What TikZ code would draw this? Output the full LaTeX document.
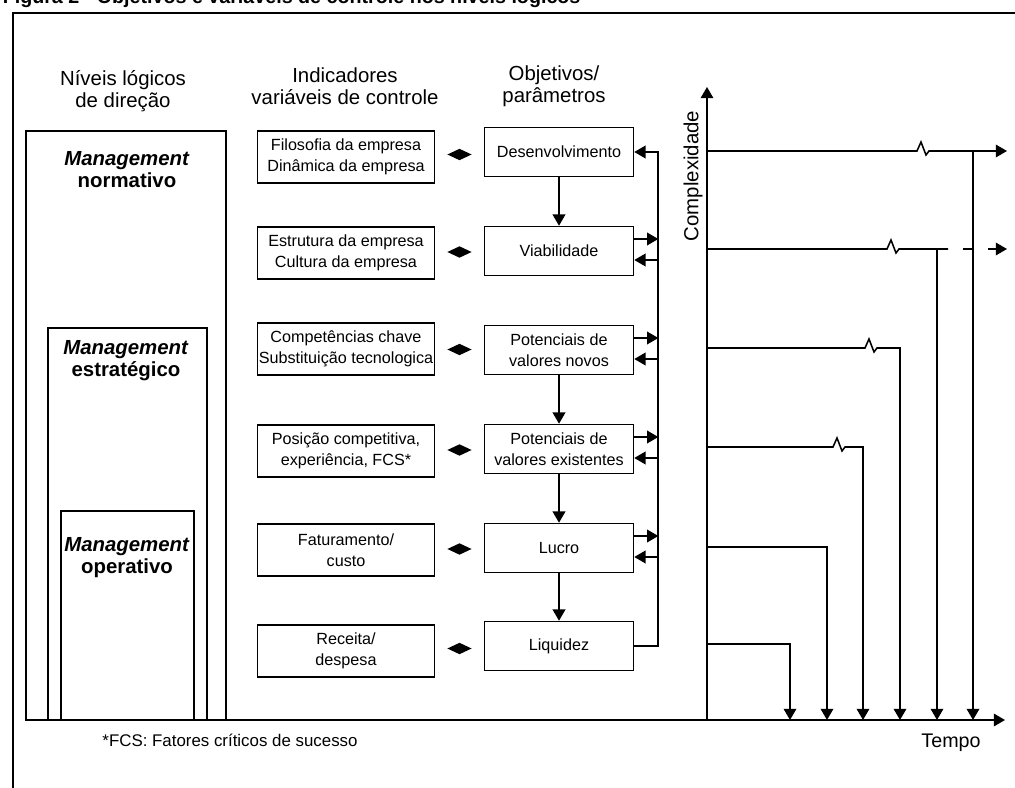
\documentclass[tikz,border=0pt]{standalone}
\usepackage{fontspec}
\setmainfont{Liberation Sans}
\usepackage{tikz}
\usetikzlibrary{arrows.meta,shapes.geometric,calc}

\begin{document}
\begin{tikzpicture}[x=0.025cm, y=-0.025cm, line width=1.1pt,
  ind/.style={draw, minimum width=4.425cm, minimum height=1.3cm, inner sep=0pt, align=center, font=\fontsize{11.5}{15}\selectfont},
  obj/.style={draw, minimum width=3.725cm, minimum height=1.225cm, inner sep=0pt, align=center, font=\fontsize{11.5}{15}\selectfont},
  head/.style={align=center, font=\fontsize{14.5}{15.6}\selectfont},
  level/.style={align=center, font=\bfseries\fontsize{14.5}{15.6}\selectfont},
  dia/.style={diamond, fill, draw=none, inner sep=0pt, minimum width=0.62cm, minimum height=0.3cm, aspect=2},
  arr/.style={-{Triangle[length=8pt,width=9pt]}}]
\useasboundingbox (0,0) rectangle (1015,788);

% title, cut off at the top
\begin{scope}
\clip (0,0) rectangle (1015,788);
\node[anchor=base west, inner sep=0pt, font=\bfseries\fontsize{14}{16}\selectfont] (title) at (2,4) {Figura 2 - Objetivos e variáveis de controle nos níveis lógicos};
\end{scope}
\draw (1015,13) -- (13,13) -- (13,788);

% column heads
\node[head] (hniv) at (123,91) {Níveis lógicos\\de direção};
\node[head] (hind) at (345,86) {Indicadores\\variáveis de controle};
\node[head] (hobj) at (554,86) {Objetivos/\\parâmetros};

% logical levels
\draw (26,131) rectangle (226,720);
\draw (48,328) rectangle (207,720);
\draw (61,511) rectangle (194,720);
\node[level] (norm) at (127,170) {\textit{Management}\\normativo};
\node[level] (estr) at (126,361) {\textit{Management}\\estratégico};
\node[level] (oper) at (127,558) {\textit{Management}\\operativo};

% indicators and objectives
\node[ind] (ind1) at (346,157) {Filosofia da empresa\\Dinâmica da empresa};
\node[ind] (ind2) at (346,253) {Estrutura da empresa\\Cultura da empresa};
\node[ind] (ind3) at (346,349) {Competências chave\\Substituição tecnologica};
\node[ind] (ind4) at (346,451) {Posição competitiva,\\experiência, FCS*};
\node[ind] (ind5) at (346,550) {Faturamento/\\custo};
\node[ind] (ind6) at (346,651) {Receita/\\despesa};

\node[obj] (obj1) at (559,152) {Desenvolvimento};
\node[obj] (obj2) at (559,251) {Viabilidade};
\node[obj] (obj3) at (559,350) {Potenciais de\\valores novos};
\node[obj] (obj4) at (559,449) {Potenciais de\\valores existentes};
\node[obj] (obj5) at (559,548) {Lucro};
\node[obj] (obj6) at (559,646) {Liquidez};

\foreach \k in {1,...,6}
  \node[dia] (d\k) at ($(ind\k.east)!0.5!(obj\k.west)$) {};

\draw[arr] (obj1) -- (obj2);
\draw[arr] (obj3) -- (obj4);
\draw[arr] (obj4) -- (obj5);
\draw[arr] (obj5) -- (obj6);

% feedback loop
\coordinate (fb) at (658,152);
\draw[arr] (obj6.east) -| (fb) -- (obj1.east);
\foreach \k in {2,...,5} {
  \draw[arr] ($(obj\k.east)+(0,-12)$) -- ($(obj\k.east)+(24,-12)$);
  \draw[arr] ($(obj\k.east)+(24,9)$) -- ($(obj\k.east)+(0,9)$);
}

% complexity over time
\coordinate (o) at (707,720);
\coordinate (t0) at (27,720);
\draw[arr] (t0) -- (1005,720);
\draw[arr] (o) -- (707,87);
\node[head, rotate=90] (cpx) at (693,176) {Complexidade};
\node[font=\fontsize{14}{16}\selectfont] (tempo) at (951,743) {Tempo};

\draw[arr] (707,151) -- (917,151) -- ++(4,-9) -- ++(5,13) -- ++(3,-4) -- (1007,151);
\draw[arr] (973,151) -- (973,720);
\draw (707,249) -- (887,249) -- ++(4,-9) -- ++(5,13) -- ++(3,-4) -- (948,249);
\draw[arr] (937,249) -- (937,720);
\draw (963,249) -- (973,249);
\draw[arr] (988,249) -- (1007,249);
\draw[arr] (707,348) -- (865,348) -- ++(4,-9) -- ++(5,13) -- ++(3,-4) -- (900,348) -- (900,720);
\draw[arr] (707,447) -- (833,447) -- ++(4,-9) -- ++(5,13) -- ++(3,-4) -- (863,447) -- (863,720);
\draw[arr] (707,547) -- (827,547) -- (827,720);
\draw[arr] (707,644) -- (790,644) -- (790,720);

\node[font=\fontsize{12}{14}\selectfont] (fcs) at (230,740) {*FCS: Fatores críticos de sucesso};
\end{tikzpicture}
\end{document}
